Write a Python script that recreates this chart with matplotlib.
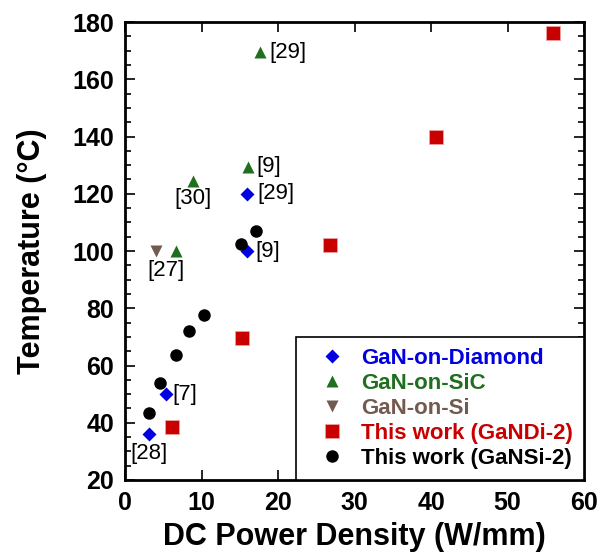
import matplotlib.pyplot as plt
from matplotlib.ticker import MultipleLocator

plt.rcParams["font.family"] = ["Liberation Sans", "DejaVu Sans"]

# Data.
diamond_x = [3.2, 5.3, 16.0, 16.0]
diamond_y = [36, 50, 100, 120]
diamond_refs = ["[28]", "[7]", "[9]", "[29]"]

sic_x = [6.6, 8.85, 16.1, 17.6]
sic_y = [100, 124.5, 129.5, 169.5]
sic_refs = ["[27]", "[30]", "[9]", "[29]"]

si_x = [4.05]
si_y = [100]

gandi_x = [6.1, 15.3, 26.8, 40.7, 55.9]
gandi_y = [38.5, 69.5, 102, 140, 176]

gansi_x = [3.1, 4.6, 6.7, 8.3, 10.3, 15.1, 17.1]
gansi_y = [43.5, 54, 63.5, 72, 77.5, 102.5, 107]

BLUE = "#0000e0"
GREEN = "#1f6f1f"
BROWN = "#735a50"
RED = "#c80000"
BLACK = "#000000"


def label(ax, text, x, y, dx, dy, ha):
    ax.annotate(text, (x, y), xytext=(dx, dy), textcoords="offset points",
                ha=ha, va="center", fontsize=16, color="black")


def plot_temperature():
    fig = plt.figure(figsize=(5.99, 5.56), dpi=100)
    ax = fig.add_axes([0.2087, 0.1367, 0.7663, 0.8237])

    ax.plot(diamond_x, diamond_y, "D", color=BLUE, ms=7, mec="none",
            label="GaN-on-Diamond")
    ax.plot(sic_x, sic_y, "^", color=GREEN, ms=8.5, mec="none",
            label="GaN-on-SiC")
    ax.plot(si_x, si_y, "v", color=BROWN, ms=8.5, mec="none",
            label="GaN-on-Si")
    ax.plot(gandi_x, gandi_y, "s", color=RED, ms=9.5, mec="#f0a0a0", mew=0.6,
            label="This work (GaNDi-2)")
    ax.plot(gansi_x, gansi_y, "o", color=BLACK, ms=9, mec="none",
            label="This work (GaNSi-2)")

    # Reference labels next to literature points.
    label(ax, diamond_refs[0], diamond_x[0], diamond_y[0], 0, -14, "center")
    label(ax, diamond_refs[1], diamond_x[1], diamond_y[1], 5, 0, "left")
    label(ax, diamond_refs[2], diamond_x[2], diamond_y[2], 6, 0, "left")
    label(ax, diamond_refs[3], diamond_x[3], diamond_y[3], 7, 0, "left")
    label(ax, sic_refs[0], sic_x[0], sic_y[0], -7, -14, "center")
    label(ax, sic_refs[1], sic_x[1], sic_y[1], 0, -13, "center")
    label(ax, sic_refs[2], sic_x[2], sic_y[2], 6, 0, "left")
    label(ax, sic_refs[3], sic_x[3], sic_y[3], 7, 0, "left")

    ax.set_xlim(0, 60)
    ax.set_ylim(20, 180)
    ax.xaxis.set_major_locator(MultipleLocator(10))
    ax.yaxis.set_major_locator(MultipleLocator(20))
    ax.yaxis.set_minor_locator(MultipleLocator(5))
    ax.tick_params(which="both", direction="in", top=True, right=True, width=1.2)
    ax.tick_params(which="major", length=7, labelsize=18, pad=8)
    ax.tick_params(which="minor", length=4)
    for lbl in ax.get_xticklabels() + ax.get_yticklabels():
        lbl.set_fontweight("bold")
    for sp in ax.spines.values():
        sp.set_linewidth(2)

    ax.set_xlabel("DC Power Density (W/mm)", fontsize=22, fontweight="bold",
                  labelpad=5)
    ax.set_ylabel("Temperature (°C)", fontsize=22, fontweight="bold", labelpad=18)

    leg = ax.legend(loc="lower right", borderaxespad=0, fancybox=False,
                    framealpha=1, edgecolor="black", handletextpad=0.22,
                    handlelength=2.2, labelspacing=0.18, borderpad=0.5,
                    prop={"size": 16, "weight": "bold"})
    leg.get_frame().set_linewidth(1.2)
    for text, c in zip(leg.get_texts(), [BLUE, GREEN, BROWN, RED, BLACK]):
        text.set_color(c)

    fig.savefig("out.png", dpi=100)
    plt.close(fig)


if __name__ == "__main__":
    plot_temperature()
